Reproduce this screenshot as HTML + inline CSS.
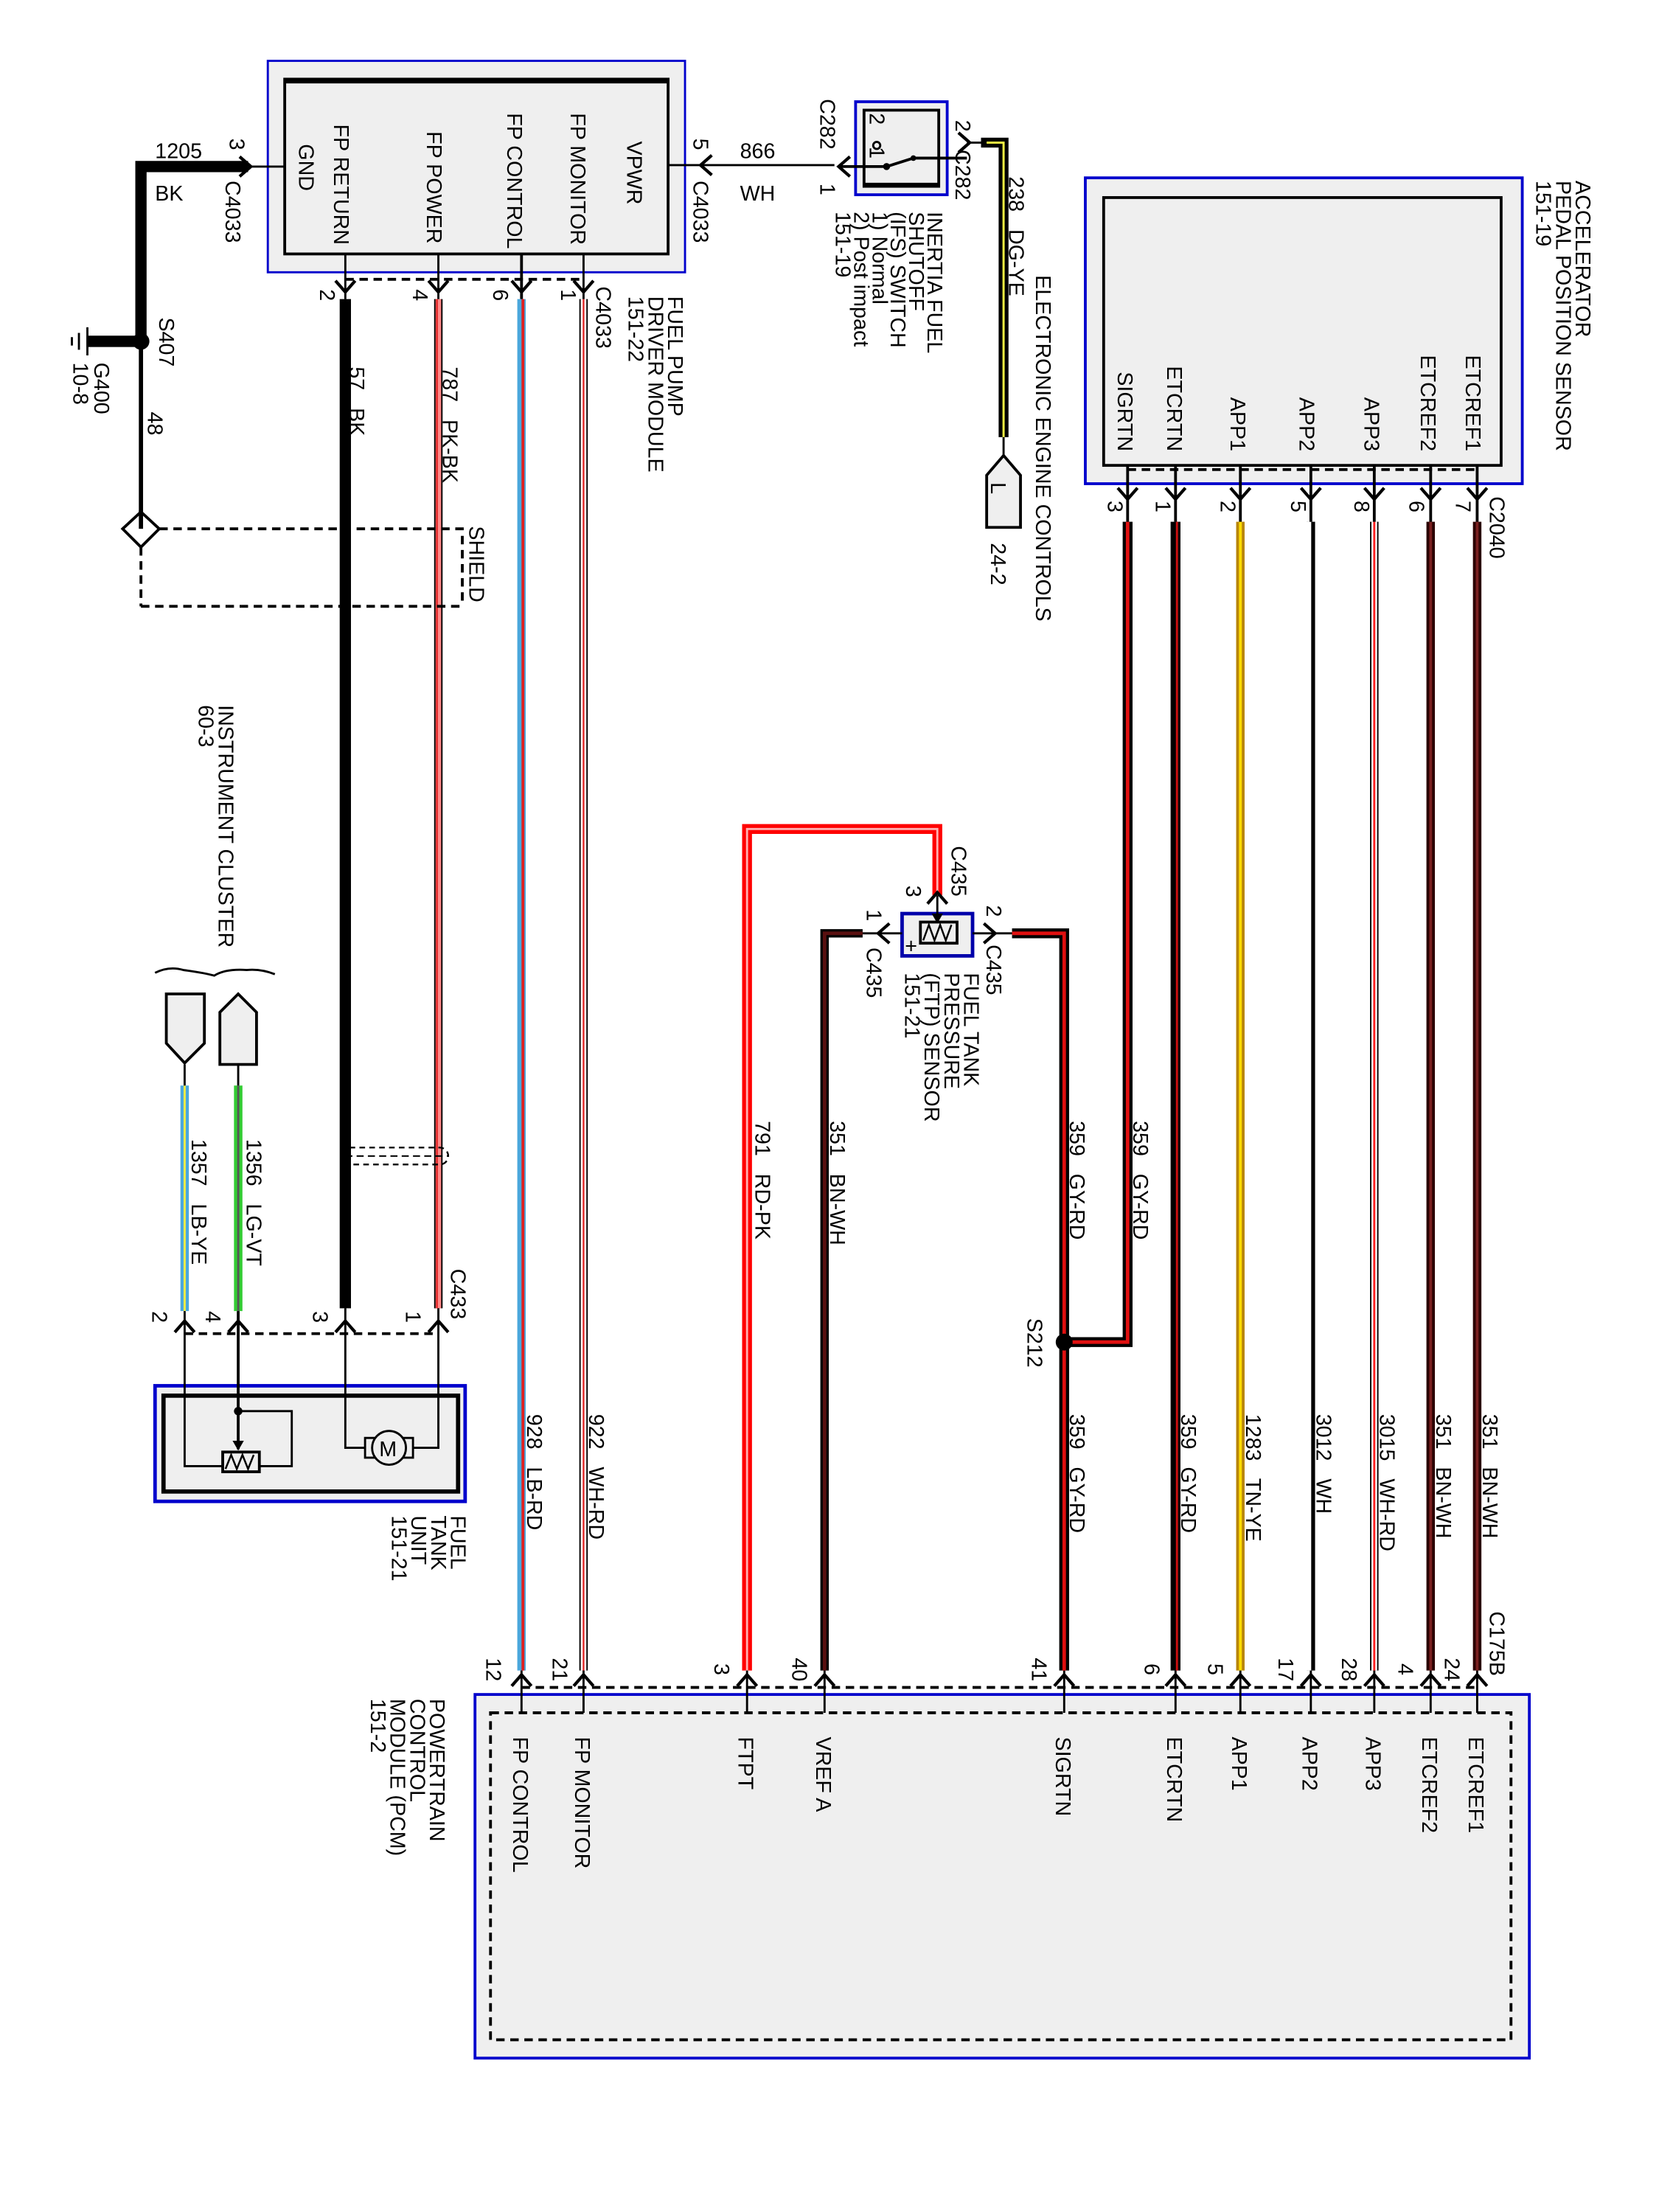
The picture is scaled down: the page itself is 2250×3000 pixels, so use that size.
<!DOCTYPE html>
<html><head><meta charset="utf-8"><style>
html,body{margin:0;padding:0;background:#fff}
svg{display:block}
text{font-family:"Liberation Sans",Arial,sans-serif;font-size:15px;fill:#000;white-space:pre}
.c{fill:none;stroke:#000;stroke-width:2}
.d{fill:none;stroke:#000;stroke-width:2;stroke-dasharray:6 4}
</style></head><body>
<svg width="2250" height="3000" viewBox="0 0 1177 1569" xmlns="http://www.w3.org/2000/svg" xml:space="preserve">
<rect width="1177" height="1569" fill="#fff"/>

<!-- FPDM -->
<rect x="190" y="43" width="296" height="150" fill="#efefef" stroke="#0000cc" stroke-width="1.5"/>
<rect x="202" y="56" width="272" height="124" fill="#efefef" stroke="#000" stroke-width="2"/>
<line x1="202" y1="57" x2="474" y2="57" stroke="#000" stroke-width="4"/>
<!-- APP sensor -->
<rect x="770" y="126" width="310" height="217" fill="#efefef" stroke="#0000cc" stroke-width="2"/>
<rect x="783" y="140" width="282" height="190" fill="#efefef" stroke="#000" stroke-width="2"/>
<!-- PCM -->
<rect x="337" y="1202" width="748" height="258" fill="#efefef" stroke="#0000cc" stroke-width="2"/>
<rect x="348" y="1215" width="724" height="232" fill="none" stroke="#000" stroke-width="2" stroke-dasharray="6 4"/>
<!-- IFS switch -->
<rect x="607" y="72" width="65" height="66" fill="#efefef" stroke="#0000cc" stroke-width="2"/>
<rect x="613" y="78" width="53" height="54" fill="#efefef" stroke="#000" stroke-width="2"/>
<line x1="613" y1="131" x2="666" y2="131" stroke="#000" stroke-width="3"/>
<circle cx="622" cy="103" r="2.5" fill="none" stroke="#000" stroke-width="1.5"/>
<circle cx="629" cy="118" r="2.5" fill="#000"/>
<circle cx="648" cy="112" r="2" fill="#000"/>
<path d="M629 118 L648 112 L686 112" class="c"/>
<path d="M629 118 L595 118" class="c"/>
<!-- fuel tank unit -->
<rect x="110" y="983" width="220" height="82" fill="#efefef" stroke="#0000cc" stroke-width="2.5"/>
<rect x="116" y="990" width="209" height="68" fill="#efefef" stroke="#000" stroke-width="3"/>
<!-- FTP sensor -->
<rect x="640" y="648" width="50" height="30" fill="#efefef" stroke="#0000aa" stroke-width="2.5"/>

<!-- WIRES -->
<g fill="none" stroke-linejoin="miter">
<path d="M176 118 H100 V242" stroke="#000" stroke-width="8"/>
<path d="M100 242 H62" stroke="#000" stroke-width="8"/>
<path d="M100 242 V372" stroke="#000" stroke-width="3"/>
<path d="M202 118 H176" stroke="#000" stroke-width="1.5"/>
<path d="M474 117 H592" stroke="#000" stroke-width="1.5"/>
<path d="M245 180 V212" stroke="#000" stroke-width="1.5"/>
<path d="M245 212 V928" stroke="#000" stroke-width="8"/>
<path d="M311 180 V212" stroke="#000" stroke-width="1.5"/>
<path d="M311 212 V928" stroke="#000" stroke-width="6"/>
<path d="M311 212 V928" stroke="#ff8888" stroke-width="4"/>
<path d="M310 212 V928" stroke="#e02020" stroke-width="1.2"/>
<path d="M370 180 V212" stroke="#000" stroke-width="2"/>
<path d="M370 212 V1185" stroke="#4aa8dd" stroke-width="6"/>
<path d="M371 212 V1185" stroke="#e02020" stroke-width="2"/>
<path d="M414 180 V212" stroke="#000" stroke-width="1.5"/>
<path d="M414 212 V1185" stroke="#000" stroke-width="6"/>
<path d="M414 212 V1185" stroke="#fff" stroke-width="4"/>
<path d="M414 212 V1185" stroke="#e02020" stroke-width="1.2"/>
<path d="M696 101 H712 V310" stroke="#000" stroke-width="7"/>
<path d="M700 101 H712 V310" stroke="#ffff44" stroke-width="1.5"/>
<path d="M686 101 H696" stroke="#000" stroke-width="1.5"/>
<path d="M712 310 V325" stroke="#000" stroke-width="1.5"/>
<path d="M665 635 V588 H530 V1185" stroke="#ff0000" stroke-width="7"/>
<path d="M665 635 V588 H530 V1185" stroke="#ffb0b0" stroke-width="1.5"/>
<path d="M665 635 V655" stroke="#000" stroke-width="1.5"/>
<path d="M612 662 H585 V1185" stroke="#000" stroke-width="6"/>
<path d="M612 662 H585 V1185" stroke="#5a1010" stroke-width="2.5"/>
<path d="M640 662 H612" stroke="#000" stroke-width="1.5"/>
<path d="M718 662 H755 V1185" stroke="#000" stroke-width="7"/>
<path d="M718 662 H755 V1185" stroke="#e01010" stroke-width="2.5"/>
<path d="M690 662 H718" stroke="#000" stroke-width="1.5"/>
<path d="M800 370 V952 H755" stroke="#000" stroke-width="7"/>
<path d="M800 370 V952 H755" stroke="#e01010" stroke-width="2.5"/>
<path d="M834 370 V1185" stroke="#000" stroke-width="7"/>
<path d="M835 370 V1185" stroke="#cc1010" stroke-width="1.5"/>
<path d="M880 370 V1185" stroke="#b8860b" stroke-width="6"/>
<path d="M880 370 V1185" stroke="#ffdd00" stroke-width="2"/>
<path d="M930 370 V1185" stroke="#000" stroke-width="6"/>
<path d="M928.5 370 V1185" stroke="#fff" stroke-width="3.5"/>
<path d="M975 370 V1185" stroke="#000" stroke-width="6"/>
<path d="M975 370 V1185" stroke="#fff" stroke-width="4"/>
<path d="M975 370 V1185" stroke="#ff2020" stroke-width="1.5"/>
<path d="M1015 370 V1185" stroke="#2a0000" stroke-width="6"/>
<path d="M1015 370 V1185" stroke="#7a2020" stroke-width="2"/>
<path d="M1048 370 V1185" stroke="#2a0000" stroke-width="6"/>
<path d="M1048 370 V1185" stroke="#7a2020" stroke-width="2"/>
<path d="M800 330 V370 M834 330 V370 M880 330 V370 M930 330 V370 M975 330 V370 M1015 330 V370 M1048 330 V370" stroke="#000" stroke-width="2"/>
<path d="M370 1185 V1215 M414 1185 V1215 M530 1185 V1215 M585 1185 V1215 M755 1185 V1215 M834 1185 V1215 M880 1185 V1215 M930 1185 V1215 M975 1185 V1215 M1015 1185 V1215 M1048 1185 V1215" stroke="#000" stroke-width="1.5"/>
<path d="M131 770 V930" stroke="#4aa8dd" stroke-width="6"/>
<path d="M131 770 V930" stroke="#ffee44" stroke-width="1.5"/>
<path d="M169 770 V930" stroke="#33cc33" stroke-width="6"/>
<path d="M169 770 V930" stroke="#555" stroke-width="1.5"/>
<path d="M131 755 V770 M169 755 V770" stroke="#000" stroke-width="1.5"/>
<path d="M131 930 V1040 H158" stroke="#000" stroke-width="1.5"/>
<path d="M169 930 V1028" stroke="#000" stroke-width="2"/>
<path d="M169 1001 H207 V1040 H184" stroke="#000" stroke-width="1.5"/>
<path d="M245 928 V1027 H262 M311 928 V1027 H290" stroke="#000" stroke-width="1.5"/>
</g>
<circle cx="169" cy="1001" r="3" fill="#000"/>
<rect x="158" y="1030" width="26" height="14" fill="#efefef" stroke="#000" stroke-width="2"/>
<path d="M160 1042 L164 1032 L168 1042 L172 1032 L176 1042 L180 1032" fill="none" stroke="#000" stroke-width="1.3"/>
<path d="M165 1022 L169 1029 L173 1022 Z" fill="#000"/>
<rect x="259" y="1020" width="34" height="14" fill="#efefef" stroke="#000" stroke-width="1.5"/>
<circle cx="276" cy="1027" r="12" fill="#efefef" stroke="#000" stroke-width="1.5"/>
<text x="269" y="1033" font-size="14">M</text>
<rect x="653" y="654" width="26" height="15" fill="#efefef" stroke="#000" stroke-width="2"/>
<path d="M655 667 L659 656 L663 667 L667 656 L671 667 L675 656" fill="none" stroke="#000" stroke-width="1.3"/>
<path d="M661 648 L665 655 L669 648 Z" fill="#000"/>
<text x="642" y="676" font-size="10">+</text>

<circle cx="100" cy="242" r="6" fill="#000"/>
<circle cx="755" cy="952" r="6" fill="#000"/>
<path d="M62 232 V252 M56 236 V248 M51 239 V245" stroke="#000" stroke-width="1.5"/>
<polygon points="100,363 113,375 100,388 87,375" fill="#fff" stroke="#000" stroke-width="2"/>
<path d="M100 375 V362" stroke="#000" stroke-width="3"/>
<path d="M113 375 H328 V430 M100 388 V430" class="d" stroke-width="1.5"/>
<path d="M100 430 H328" class="d" stroke-width="3"/>
<rect x="242" y="814" width="76" height="12" rx="6" fill="none" stroke="#000" stroke-width="1.2" stroke-dasharray="4 3"/>
<line x1="245" y1="820" x2="318" y2="820" stroke="#000" stroke-width="1" stroke-dasharray="5 3"/>

<path d="M110 690 Q120 685 130 688 Q145 690 152 692 Q160 687 175 688 Q185 687 195 691" fill="none" stroke="#000" stroke-width="1.5"/>
<polygon points="118,705 145,705 145,740 131,754 118,740" fill="#efefef" stroke="#000" stroke-width="2"/>
<polygon points="156,718 169,705 182,718 182,755 156,755" fill="#efefef" stroke="#000" stroke-width="2"/>
<polygon points="712,323 724,337 724,374 700,374 700,337" fill="#efefef" stroke="#000" stroke-width="2"/>

<g fill="none" stroke="#000" stroke-width="2.2">
<path d="M238 199 L245 207 L252 199 M304 199 L311 207 L318 199 M363 199 L370 207 L377 199 M407 199 L414 207 L421 199"/>
<path d="M793 346 L800 354 L807 346 M827 346 L834 354 L841 346 M873 346 L880 354 L887 346 M923 346 L930 354 L937 346 M968 346 L975 354 L982 346 M1008 346 L1015 354 L1022 346 M1041 346 L1048 354 L1055 346"/>
<path d="M124 945 L131 937 L138 945 M162 945 L169 937 L176 945 M238 945 L245 937 L252 945 M304 945 L311 937 L318 945"/>
<path d="M363 1196 L370 1188 L377 1196 M407 1196 L414 1188 L421 1196 M523 1196 L530 1188 L537 1196 M578 1196 L585 1188 L592 1196 M748 1196 L755 1188 L762 1196 M827 1196 L834 1188 L841 1196 M873 1196 L880 1188 L887 1196 M923 1196 L930 1188 L937 1196 M968 1196 L975 1188 L982 1196 M1008 1196 L1015 1188 L1022 1196 M1041 1196 L1048 1188 L1055 1196"/>
<path d="M658 641 L665 633 L672 641"/>
<path d="M631 655 L623 662 L631 669"/>
<path d="M698 655 L706 662 L698 669"/>
<path d="M170 111 L178 118 L170 125"/>
<path d="M505 110 L497 117 L505 124"/>
<path d="M603 111 L595 118 L603 125"/>
<path d="M680 94 L688 101 L680 108"/>
</g>
<path d="M245 198 H414" class="d"/>
<path d="M800 333 H1048" class="d"/>
<path d="M131 946 H311" class="d"/>
<path d="M370 1197 H1048" class="d"/>

<text x="110" y="112">1205</text>
<text x="110" y="142">BK</text>
<text x="525" y="112">866</text>
<text x="525" y="142">WH</text>

<g>
<text transform="translate(445,100) rotate(90)">VPWR</text>
<text transform="translate(405,80) rotate(90)">FP MONITOR</text>
<text transform="translate(360,80) rotate(90)">FP CONTROL</text>
<text transform="translate(303,93) rotate(90)">FP POWER</text>
<text transform="translate(237,88) rotate(90)">FP RETURN</text>
<text transform="translate(212,102) rotate(90)">GND</text>
<text transform="translate(227,205) rotate(90)">2</text>
<text transform="translate(293,205) rotate(90)">4</text>
<text transform="translate(350,205) rotate(90)">6</text>
<text transform="translate(398,205) rotate(90)">1</text>
<text transform="translate(423,203) rotate(90)">C4033</text>
<text transform="translate(163,98) rotate(90)">3</text>
<text transform="translate(160,128) rotate(90)">C4033</text>
<text transform="translate(492,98) rotate(90)">5</text>
<text transform="translate(492,128) rotate(90)">C4033</text>
<text transform="translate(113,225) rotate(90)">S407</text>
<text transform="translate(67,257) rotate(90)">G400</text>
<text transform="translate(52,257) rotate(90)">10-8</text>
<text transform="translate(105,292) rotate(90)">48</text>
<text transform="translate(248,260) rotate(90)">57   BK</text>
<text transform="translate(314,260) rotate(90)">787   PK-BK</text>
<text transform="translate(333,373) rotate(90)">SHIELD</text>
<text transform="translate(474,210) rotate(90)">FUEL PUMP</text>
<text transform="translate(460,210) rotate(90)">DRIVER MODULE</text>
<text transform="translate(446,210) rotate(90)">151-22</text>
<text transform="translate(582,70) rotate(90)">C282</text>
<text transform="translate(582,130) rotate(90)">1</text>
<text transform="translate(678,85) rotate(90)">2</text>
<text transform="translate(678,106) rotate(90)">C282</text>
<text transform="translate(617,80) rotate(90)" font-size="11">2</text>
<text transform="translate(617,104) rotate(90)" font-size="11">1</text>
<text transform="translate(658,150) rotate(90)">INERTIA FUEL</text>
<text transform="translate(645,150) rotate(90)">SHUTOFF</text>
<text transform="translate(632,150) rotate(90)">(IFS) SWITCH</text>
<text transform="translate(619,150) rotate(90)">1) Normal</text>
<text transform="translate(606,150) rotate(90)">2) Post impact</text>
<text transform="translate(593,150) rotate(90)">151-19</text>
<text transform="translate(716,125) rotate(90)">238   DG-YE</text>
<text transform="translate(735,195) rotate(90)">ELECTRONIC ENGINE CONTROLS</text>
<text transform="translate(703,342) rotate(90)">L</text>
<text transform="translate(703,385) rotate(90)">24-2</text>
<text transform="translate(1118,128) rotate(90)">ACCELERATOR</text>
<text transform="translate(1104,128) rotate(90)">PEDAL POSITION SENSOR</text>
<text transform="translate(1090,128) rotate(90)">151-19</text>
<g text-anchor="end">
<text transform="translate(1040,320) rotate(90)">ETCREF1</text>
<text transform="translate(1008,320) rotate(90)">ETCREF2</text>
<text transform="translate(968,320) rotate(90)">APP3</text>
<text transform="translate(922,320) rotate(90)">APP2</text>
<text transform="translate(873,320) rotate(90)">APP1</text>
<text transform="translate(828,320) rotate(90)">ETCRTN</text>
<text transform="translate(793,320) rotate(90)">SIGRTN</text>
</g>
<text transform="translate(786,355) rotate(90)">3</text>
<text transform="translate(820,355) rotate(90)">1</text>
<text transform="translate(866,355) rotate(90)">2</text>
<text transform="translate(916,355) rotate(90)">5</text>
<text transform="translate(961,355) rotate(90)">8</text>
<text transform="translate(1000,355) rotate(90)">6</text>
<text transform="translate(1033,355) rotate(90)">7</text>
<text transform="translate(1057,352) rotate(90)">C2040</text>
<text transform="translate(804,795) rotate(90)">359   GY-RD</text>
<text transform="translate(759,795) rotate(90)">359   GY-RD</text>
<text transform="translate(759,1003) rotate(90)">359   GY-RD</text>
<text transform="translate(589,795) rotate(90)">351   BN-WH</text>
<text transform="translate(536,795) rotate(90)">791   RD-PK</text>
<text transform="translate(729,935) rotate(90)">S212</text>
<text transform="translate(838,1003) rotate(90)">359   GY-RD</text>
<text transform="translate(884,1003) rotate(90)">1283   TN-YE</text>
<text transform="translate(934,1003) rotate(90)">3012   WH</text>
<text transform="translate(979,1003) rotate(90)">3015   WH-RD</text>
<text transform="translate(1019,1003) rotate(90)">351   BN-WH</text>
<text transform="translate(1052,1003) rotate(90)">351   BN-WH</text>
<text transform="translate(1057,1143) rotate(90)">C175B</text>
<text transform="translate(374,1003) rotate(90)">928   LB-RD</text>
<text transform="translate(418,1003) rotate(90)">922   WH-RD</text>
<text transform="translate(675,600) rotate(90)">C435</text>
<text transform="translate(643,628) rotate(90)">3</text>
<text transform="translate(700,642) rotate(90)">2</text>
<text transform="translate(700,670) rotate(90)">C435</text>
<text transform="translate(615,645) rotate(90)">1</text>
<text transform="translate(615,672) rotate(90)">C435</text>
<text transform="translate(684,690) rotate(90)">FUEL TANK</text>
<text transform="translate(670,690) rotate(90)">PRESSURE</text>
<text transform="translate(656,690) rotate(90)">(FTP) SENSOR</text>
<text transform="translate(642,690) rotate(90)">151-21</text>
<text transform="translate(155,500) rotate(90)">INSTRUMENT CLUSTER</text>
<text transform="translate(141,500) rotate(90)">60-3</text>
<text transform="translate(136,808) rotate(90)">1357   LB-YE</text>
<text transform="translate(175,808) rotate(90)">1356   LG-VT</text>
<text transform="translate(320,900) rotate(90)">C433</text>
<text transform="translate(108,930) rotate(90)">2</text>
<text transform="translate(146,930) rotate(90)">4</text>
<text transform="translate(222,930) rotate(90)">3</text>
<text transform="translate(288,930) rotate(90)">1</text>
<text transform="translate(320,1075) rotate(90)">FUEL</text>
<text transform="translate(306,1075) rotate(90)">TANK</text>
<text transform="translate(292,1075) rotate(90)">UNIT</text>
<text transform="translate(278,1075) rotate(90)">151-21</text>
<text transform="translate(364,1232) rotate(90)">FP CONTROL</text>
<text transform="translate(408,1232) rotate(90)">FP MONITOR</text>
<text transform="translate(524,1232) rotate(90)">FTPT</text>
<text transform="translate(579,1232) rotate(90)">VREF A</text>
<text transform="translate(749,1232) rotate(90)">SIGRTN</text>
<text transform="translate(828,1232) rotate(90)">ETCRTN</text>
<text transform="translate(874,1232) rotate(90)">APP1</text>
<text transform="translate(924,1232) rotate(90)">APP2</text>
<text transform="translate(969,1232) rotate(90)">APP3</text>
<text transform="translate(1009,1232) rotate(90)">ETCREF2</text>
<text transform="translate(1042,1232) rotate(90)">ETCREF1</text>
<text transform="translate(345,1176) rotate(90)">12</text>
<text transform="translate(392,1176) rotate(90)">21</text>
<text transform="translate(507,1180) rotate(90)">3</text>
<text transform="translate(562,1176) rotate(90)">40</text>
<text transform="translate(732,1176) rotate(90)">41</text>
<text transform="translate(812,1180) rotate(90)">6</text>
<text transform="translate(857,1180) rotate(90)">5</text>
<text transform="translate(907,1176) rotate(90)">17</text>
<text transform="translate(952,1176) rotate(90)">28</text>
<text transform="translate(992,1180) rotate(90)">4</text>
<text transform="translate(1025,1176) rotate(90)">24</text>
<text transform="translate(305,1205) rotate(90)">POWERTRAIN</text>
<text transform="translate(291,1205) rotate(90)">CONTROL</text>
<text transform="translate(277,1205) rotate(90)">MODULE (PCM)</text>
<text transform="translate(263,1205) rotate(90)">151-2</text>
</g>
</svg>
</body></html>
